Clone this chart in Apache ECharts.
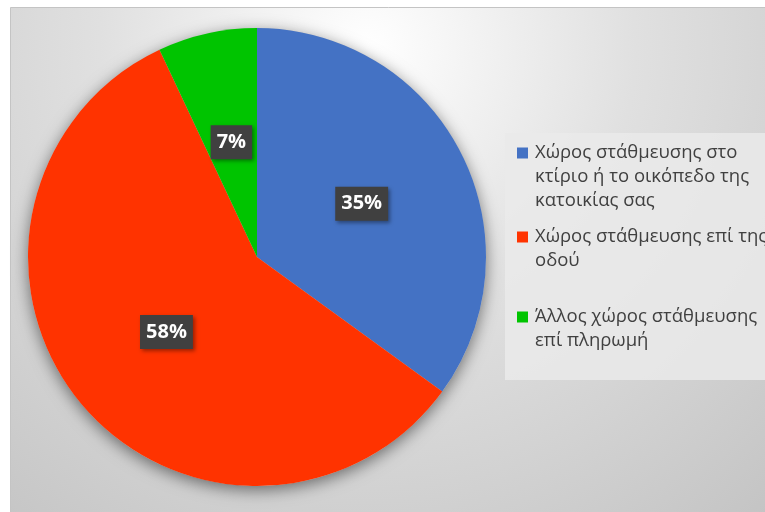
<!DOCTYPE html>
<html>
<head>
<meta charset="utf-8">
<style>
  html, body { margin: 0; padding: 0; background: #ffffff; }
  #chart { width: 765px; height: 512px; }
</style>
<script src="https://cdn.jsdelivr.net/npm/echarts@6/dist/echarts.min.js"></script>
</head>
<body>
<div id="chart"></div>
<script>
// Parking location shares (percent)
const categories = [
  'Χώρος στάθμευσης στο\nκτίριο ή το οικόπεδο της\nκατοικίας σας',
  'Χώρος στάθμευσης επί της\nοδού',
  'Άλλος χώρος στάθμευσης\nεπί πληρωμή'
];
const values = [35, 58, 7];
const colors = ['#4472C4', '#FF3300', '#00C400'];
const legendTops = [141, 225, 305];

const FONT = '"Open Sans", "Noto Sans", sans-serif';

const chart = echarts.init(document.getElementById('chart'), null, { renderer: 'canvas' });

// Legend text: coloured square on the first line, indented continuation lines
function legendFormatter(name) {
  const idx = categories.indexOf(name);
  return name.split('\n').map(function (line, i) {
    return (i === 0 ? '{sq' + idx + '| }' : '{ind| }') + '{t|' + line + '}';
  }).join('\n');
}

const rich = {
  ind: { width: 11, lineHeight: 24 },
  t: { fontSize: 18.5, color: '#404040', fontFamily: FONT, lineHeight: 24, padding: [0, 0, 0, 7] }
};
colors.forEach(function (c, i) {
  rich['sq' + i] = { width: 11, height: 11, backgroundColor: c, lineHeight: 24, verticalAlign: 'middle', align: 'left' };
});

const legends = categories.map(function (name, i) {
  return {
    data: [name],
    left: 512,
    top: legendTops[i],
    padding: 0,
    orient: 'vertical',
    icon: 'none',
    itemWidth: 0,
    itemHeight: 11,
    selectedMode: false,
    formatter: legendFormatter,
    textStyle: { rich: rich, fontFamily: FONT, fontSize: 18.5, lineHeight: 24 }
  };
});

const pieData = categories.map(function (name, i) {
  return { name: name, value: values[i], itemStyle: { color: colors[i] } };
});

chart.setOption({
  animation: false,
  graphic: [
    {
      type: 'rect',
      z: -10,
      shape: { x: 10.5, y: 7.5, width: 760, height: 510 },
      style: {
        fill: {
          type: 'radial', x: 0.47, y: 0.08, r: 1.25,
          colorStops: [
            { offset: 0, color: '#ffffff' },
            { offset: 0.42, color: '#e0e0e0' },
            { offset: 1, color: '#c2c2c2' }
          ]
        },
        stroke: '#c4c4c4',
        lineWidth: 1
      }
    },
    {
      type: 'rect',
      z: -5,
      shape: { x: 505, y: 133, width: 270, height: 247 },
      style: { fill: 'rgba(234,234,234,0.85)' }
    }
  ],
  legend: legends,
  series: [
    {
      // soft drop shadow behind the whole pie
      type: 'pie',
      silent: true,
      center: [257, 257],
      radius: [0, 229],
      z: 1,
      label: { show: false },
      labelLine: { show: false },
      itemStyle: {
        color: '#c8c8c8',
        shadowBlur: 16,
        shadowColor: 'rgba(0,0,0,0.5)',
        shadowOffsetY: 4
      },
      data: [{ value: 1, name: '' }]
    },
    {
      type: 'pie',
      center: [257, 257],
      radius: [0, 229],
      startAngle: 90,
      clockwise: true,
      z: 2,
      itemStyle: { borderWidth: 0 },
      label: {
        show: true,
        position: 'inside',
        formatter: function (p) { return p.value + '%'; },
        color: '#ffffff',
        fontFamily: FONT,
        fontWeight: 'bold',
        fontSize: 20,
        lineHeight: 20,
        backgroundColor: '#404040',
        padding: [7, 6, 7, 6],
        shadowBlur: 4,
        shadowColor: 'rgba(0,0,0,0.4)',
        shadowOffsetX: 2,
        shadowOffsetY: 2
      },
      labelLine: { show: false },
      emphasis: { disabled: true },
      data: pieData
    }
  ]
});
</script>
</body>
</html>
